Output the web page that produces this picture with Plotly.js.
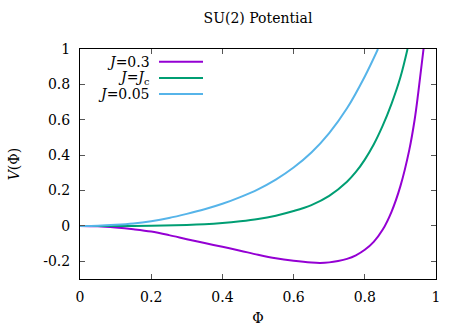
<!DOCTYPE html>
<html><head><meta charset="utf-8">
<script src="https://cdn.plot.ly/plotly-3.0.1.min.js"></script>
<style>html,body{margin:0;padding:0;background:#fff}#chart{width:474px;height:332px}</style>
</head><body><div id="chart"></div>
<script>
// J = 0.3
const phiA = [0, 0.05, 0.1, 0.15, 0.2, 0.25, 0.3, 0.35, 0.4, 0.45, 0.5, 0.55, 0.6, 0.65, 0.675, 0.7, 0.725, 0.75, 0.775, 0.8, 0.825, 0.85, 0.875, 0.9, 0.925, 0.94, 0.95, 0.965];
const vA   = [0, -0.002, -0.009, -0.019, -0.032, -0.052, -0.075, -0.097, -0.118, -0.14, -0.163, -0.183, -0.197, -0.207, -0.209, -0.206, -0.198, -0.186, -0.166, -0.135, -0.09, -0.022, 0.08, 0.225, 0.43, 0.6, 0.75, 1.0];
// J = Jc
const phiB = [0, 0.1, 0.2, 0.3, 0.35, 0.4, 0.45, 0.5, 0.55, 0.6, 0.65, 0.7, 0.75, 0.775, 0.8, 0.825, 0.85, 0.875, 0.9, 0.92];
const vB   = [0, 0, 0.001, 0.005, 0.009, 0.016, 0.026, 0.039, 0.058, 0.084, 0.118, 0.17, 0.25, 0.305, 0.375, 0.46, 0.565, 0.69, 0.84, 1.0];
// J = 0.05
const phiC = [0, 0.05, 0.1, 0.15, 0.2, 0.25, 0.3, 0.35, 0.4, 0.45, 0.5, 0.55, 0.6, 0.65, 0.7, 0.75, 0.8, 0.837];
const vC   = [0, 0.001, 0.006, 0.014, 0.027, 0.045, 0.068, 0.094, 0.125, 0.163, 0.207, 0.262, 0.33, 0.415, 0.525, 0.665, 0.845, 1.0];
const names = ['<i>J</i>=0.3', '<i>J</i>=<i>J</i><sub>c</sub>', '<i>J</i>=0.05'];
const colors = ['#9400d3', '#009e73', '#56b4e9'];
const xTicks = [0, 0.2, 0.4, 0.6, 0.8, 1];
const yTicks = [-0.2, 0, 0.2, 0.4, 0.6, 0.8, 1];

const series = [[phiA, vA], [phiB, vB], [phiC, vC]];
const traces = series.map((s, i) => ({
  x: s[0], y: s[1], type: 'scatter', mode: 'lines', line: {color: colors[i], width: 2, shape: 'spline', smoothing: 1},
  showlegend: false, cliponaxis: true
}));

const font = {family: 'DejaVu Serif', size: 14, color: '#000'};
const H = 230, W = 356;
const annotations = [], shapes = [];
names.forEach((n, i) => {
  const yPix = 61.7 + i * 16.2;
  const yp = 1 - (yPix - 49) / H;
  annotations.push({text: n, xref: 'paper', yref: 'paper', x: (152 - 80) / W, y: yp, xanchor: 'right', yanchor: 'middle', showarrow: false, font: font});
  shapes.push({type: 'line', xref: 'paper', yref: 'paper', x0: (159 - 80) / W, x1: (203 - 80) / W, y0: yp, y1: yp, line: {color: colors[i], width: 2}});
});

const axisCommon = {showgrid: false, zeroline: false, showline: true, linecolor: '#000', linewidth: 1, mirror: 'ticks', ticks: 'inside', ticklen: 5, tickcolor: '#555', tickfont: font};
const layout = {
  width: 474, height: 332,
  margin: {l: 80, r: 38, t: 49, b: 53},
  paper_bgcolor: '#fff', plot_bgcolor: '#fff',
  font: font,
  title: {text: 'SU(2) Potential', font: font, x: 0.5, xref: 'paper', y: 1 - 18 / 332, yref: 'container', yanchor: 'middle'},
  xaxis: Object.assign({}, axisCommon, {range: [0, 1], tickvals: xTicks, ticktext: xTicks.map(String), ticklabelstandoff: 5,
    title: {text: 'Φ', font: font, standoff: 9}}),
  yaxis: Object.assign({}, axisCommon, {range: [-0.3, 1], tickvals: yTicks, ticktext: yTicks.map(String), ticklabelstandoff: 6,
    title: {text: '<i>V</i>(Φ)', font: font, standoff: 20}}),
  annotations: annotations, shapes: shapes
};
Plotly.newPlot('chart', traces, layout, {displayModeBar: false, staticPlot: true});
</script></body></html>
